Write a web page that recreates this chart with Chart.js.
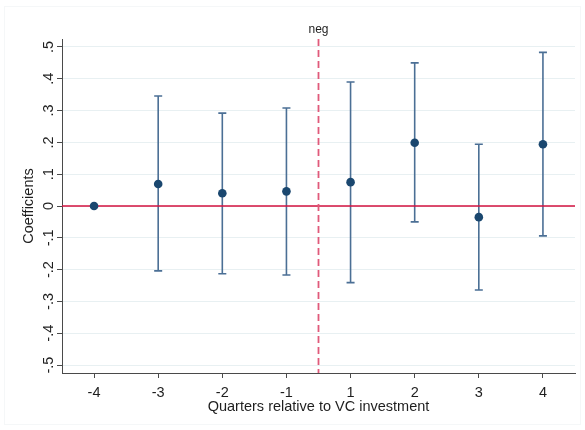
<!DOCTYPE html>
<html>
<head>
<meta charset="utf-8">
<script src="https://cdn.jsdelivr.net/npm/chart.js@4"></script>
<style>
html, body { margin: 0; padding: 0; background: #fff; }
</style>
</head>
<body>
<canvas id="myChart" width="585" height="430"></canvas>
<script>
let quarterLabels = ['-4', '-3', '-2', '-1', '1', '2', '3', '4'];
let coefs = [0, 0.069, 0.040, 0.046, 0.075, 0.199, -0.035, 0.194];
let ciLow = [0, -0.204, -0.213, -0.217, -0.241, -0.050, -0.264, -0.094];
let ciHigh = [0, 0.346, 0.292, 0.308, 0.390, 0.450, 0.194, 0.483];
let yTickValues = [-0.5, -0.4, -0.3, -0.2, -0.1, 0, 0.1, 0.2, 0.3, 0.4, 0.5];
let yTickLabels = ['-.5', '-.4', '-.3', '-.2', '-.1', '0', '.1', '.2', '.3', '.4', '.5'];
// event line sits between the last pre period and the first post period
let eventPosition = 4.5;
let eventLabel = 'neg';

const FONT = "'Liberation Sans', Arial, Helvetica, sans-serif";
const TEXT = '#1e1e1e';
const AXIS = '#4a4a4a';

let points = coefs.map((c, i) => ({ x: i + 1, y: c }));

// zero line, event line and the CI whiskers, under the markers
const underlay = {
    id: 'underlay',
    beforeDatasetsDraw(chart) {
        const ctx = chart.ctx;
        const xs = chart.scales.x;
        const ys = chart.scales.y;
        const area = chart.chartArea;
        ctx.save();

        // whiskers
        ctx.strokeStyle = '#4b6f95';
        ctx.lineWidth = 1.6;
        for (let i = 0; i < coefs.length; i++) {
            if (ciLow[i] === ciHigh[i]) continue;
            const px = xs.getPixelForValue(i + 1);
            const top = ys.getPixelForValue(ciHigh[i]);
            const bot = ys.getPixelForValue(ciLow[i]);
            ctx.beginPath();
            ctx.moveTo(px, top); ctx.lineTo(px, bot);
            ctx.moveTo(px - 4, top); ctx.lineTo(px + 4, top);
            ctx.moveTo(px - 4, bot); ctx.lineTo(px + 4, bot);
            ctx.stroke();
        }

        // zero line
        const y0 = ys.getPixelForValue(0);
        ctx.strokeStyle = '#d3123f';
        ctx.lineWidth = 1.3;
        ctx.beginPath();
        ctx.moveTo(area.left, y0); ctx.lineTo(area.right, y0);
        ctx.stroke();

        // event line
        const ex = xs.getPixelForValue(eventPosition);
        ctx.strokeStyle = '#e05a7b';
        ctx.lineWidth = 1.8;
        ctx.setLineDash([7, 4]);
        ctx.beginPath();
        ctx.moveTo(ex, area.top); ctx.lineTo(ex, area.bottom);
        ctx.stroke();
        ctx.setLineDash([]);

        ctx.fillStyle = TEXT;
        ctx.font = '12px ' + FONT;
        ctx.textAlign = 'center';
        ctx.textBaseline = 'alphabetic';
        ctx.fillText(eventLabel, ex, 33);
        ctx.restore();
    },
    afterDraw(chart) {
        // rotated y tick labels, stata style
        const ctx = chart.ctx;
        const ys = chart.scales.y;
        ctx.save();
        ctx.fillStyle = TEXT;
        ctx.font = '14.5px ' + FONT;
        ctx.textAlign = 'center';
        ctx.textBaseline = 'alphabetic';
        yTickValues.forEach((v, i) => {
            const py = ys.getPixelForValue(v);
            ctx.save();
            ctx.translate(52.5, py);
            ctx.rotate(-Math.PI / 2);
            ctx.fillText(yTickLabels[i], 0, 0);
            ctx.restore();
        });
        // faint graph region frame
        ctx.strokeStyle = '#f5f7f8';
        ctx.lineWidth = 1;
        ctx.strokeRect(4.5, 6.5, 576, 418);
        ctx.restore();
    }
};

let chartElement = document.getElementById('myChart').getContext('2d');

let myChart = new Chart(chartElement, {
    type: 'scatter',
    data: {
        datasets: [{
            data: points,
            pointRadius: 4.3,
            pointBackgroundColor: '#1a476f',
            pointBorderColor: '#1a476f',
            pointBorderWidth: 0,
            pointHoverRadius: 4.3
        }]
    },
    options: {
        responsive: false,
        animation: false,
        layout: { padding: { top: 39, right: 10, bottom: 0, left: 0 } },
        plugins: {
            legend: { display: false },
            tooltip: { enabled: false }
        },
        scales: {
            x: {
                type: 'linear',
                min: 0.5,
                max: 8.5,
                afterBuildTicks: s => { s.ticks = quarterLabels.map((l, i) => ({ value: i + 1 })); },
                afterFit: s => { s.height = 57; },
                ticks: {
                    callback: (v, i) => quarterLabels[i],
                    autoSkip: false,
                    maxRotation: 0,
                    padding: 6,
                    color: TEXT,
                    font: { size: 14.5, family: FONT }
                },
                grid: { drawOnChartArea: false, tickLength: 5, tickColor: AXIS },
                border: { color: AXIS, width: 1 },
                title: {
                    display: true,
                    text: 'Quarters relative to VC investment',
                    color: TEXT,
                    font: { size: 14.5, family: FONT },
                    padding: { top: 0, bottom: 14 }
                }
            },
            y: {
                min: -0.525,
                max: 0.525,
                afterBuildTicks: s => { s.ticks = yTickValues.map(v => ({ value: v })); },
                afterFit: s => { s.width = 62; },
                ticks: { display: false },
                grid: { color: '#e8f0f2', tickLength: 5, tickColor: AXIS },
                border: { color: AXIS, width: 1 },
                title: {
                    display: true,
                    text: 'Coefficients',
                    color: TEXT,
                    font: { size: 14.5, family: FONT },
                    padding: { top: 20, bottom: 0 }
                }
            }
        }
    },
    plugins: [underlay]
});
</script>
</body>
</html>
